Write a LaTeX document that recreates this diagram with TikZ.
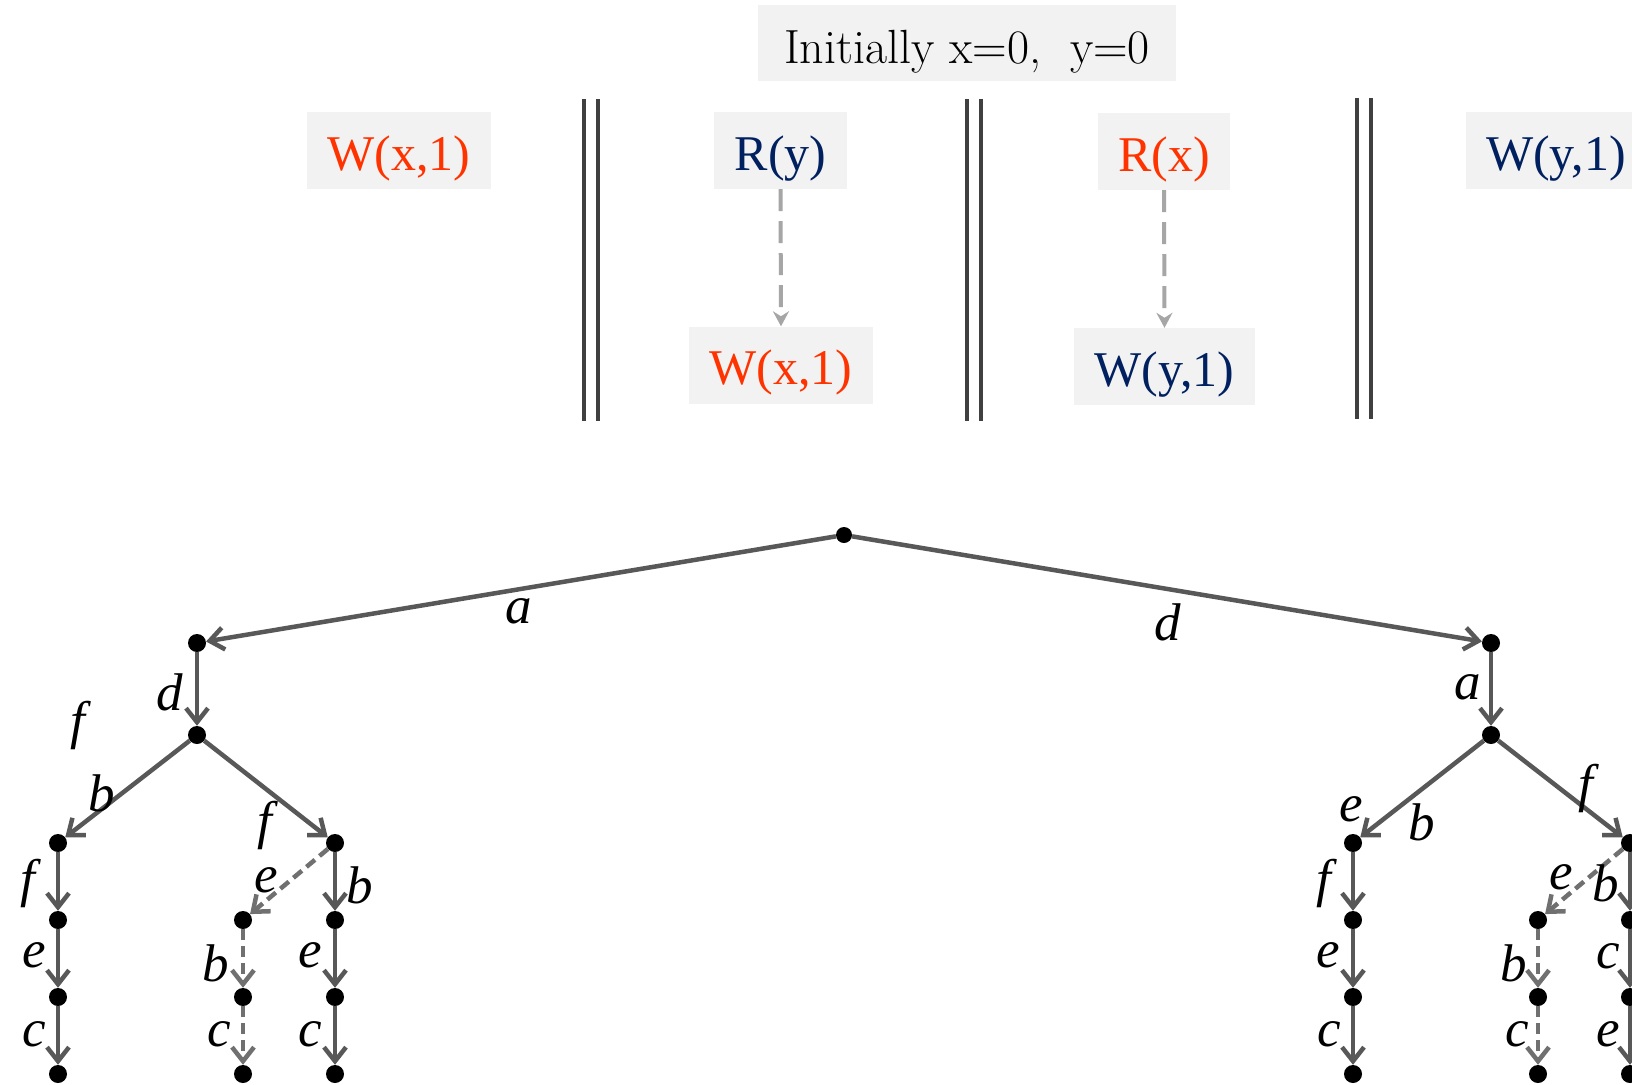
\documentclass[tikz,border=0pt]{standalone}
\usepackage{fontspec}
\newfontfamily\cambria{Liberation Serif}
\usetikzlibrary{arrows.meta}
\definecolor{orng}{HTML}{FF3300}
\definecolor{navy}{HTML}{002060}
\definecolor{boxbg}{HTML}{F2F2F2}
\definecolor{sepc}{HTML}{404040}
\definecolor{edgec}{HTML}{585858}
\definecolor{dedgec}{HTML}{707070}
\definecolor{poc}{HTML}{A6A6A6}
\begin{document}
\begin{tikzpicture}[x=1pt,y=-1pt,
  opbox/.style={fill=boxbg, minimum height=77pt, inner sep=0pt, text height=39pt, text depth=0pt, font=\cambria\fontsize{50}{58}\selectfont},
  dot/.style={circle, fill=black, inner sep=0pt, minimum size=18pt},
  tedge/.style={draw=edgec, line width=4.5pt, -{Straight Barb[length=14pt,width=22pt]}},
  dedge/.style={tedge, draw=dedgec, dash pattern=on 11pt off 6pt},
  lbl/.style={font=\cambria\fontsize{53}{60}\selectfont\itshape, inner sep=0pt},
  sepline/.style={draw=sepc, line width=3.8pt},
  poedge/.style={draw=poc, line width=4pt, dash pattern=on 22pt off 10pt, -{Stealth[length=15pt,width=16pt,inset=5pt]}}
]
\clip (0,0) rectangle (1632,1084);
\fill[white] (0,0) rectangle (1632,1084);
% header
\node[fill=boxbg, minimum width=418pt, minimum height=76pt, inner sep=0pt, text height=41pt, text depth=0pt, font=\fontsize{48}{56}\selectfont\addfontfeature{FakeBold=0.6}] (init) at (967,43) {Initially x=0,\ \ y=0};
\node[opbox, minimum width=184pt, text=orng] (w1) at (399,150.5) {W(x,1)};
\node[opbox, minimum width=133pt, text=navy] (ry) at (780.5,150.5) {R(y)};
\node[opbox, minimum width=184pt, text=orng] (w2) at (781,365) {W(x,1)};
\node[opbox, minimum width=132pt, text=orng] (rx) at (1164,151.5) {R(x)};
\node[opbox, minimum width=181pt, text=navy] (w3) at (1164.5,366.5) {W(y,1)};
\node[opbox, minimum width=180pt, text=navy] (w4) at (1556,150.5) {W(y,1)};
\draw[poedge] (ry.south) -- (w2.north);
\draw[poedge] (rx.south) -- (w3.north);
\coordinate (s1a) at (584,99); \coordinate (s1b) at (584,421);
\coordinate (s1c) at (598,99); \coordinate (s1d) at (598,421);
\coordinate (s2a) at (967,99); \coordinate (s2b) at (967,421);
\coordinate (s2c) at (981,99); \coordinate (s2d) at (981,421);
\coordinate (s3a) at (1357,98); \coordinate (s3b) at (1357,419);
\coordinate (s3c) at (1371,98); \coordinate (s3d) at (1371,419);
\draw[sepline] (s1a) -- (s1b); \draw[sepline] (s1c) -- (s1d);
\draw[sepline] (s2a) -- (s2b); \draw[sepline] (s2c) -- (s2d);
\draw[sepline] (s3a) -- (s3b); \draw[sepline] (s3c) -- (s3d);
% tree nodes
\node[dot, minimum size=16pt] (root) at (844,535) {};
\node[dot] (L) at (197,643) {};
\node[dot] (R) at (1491,643) {};
\node[dot] (L1) at (197,735) {};
\node[dot] (R1) at (1491,735) {};
\node[dot] (LL) at (58,843) {};
\node[dot] (LR) at (335,843) {};
\node[dot] (RL) at (1353,843) {};
\node[dot] (RR) at (1630,843) {};
\foreach \n/\x in {LL/58,LM/243,LR/335,RL/1353,RM/1538,RR/1630}{
  \node[dot] (\n1) at (\x,920) {};
  \node[dot] (\n2) at (\x,997) {};
  \node[dot] (\n3) at (\x,1074) {};
}
% tree edges
\draw[tedge] (root) -- (L);
\draw[tedge] (root) -- (R);
\draw[tedge] (L) -- (L1);
\draw[tedge] (R) -- (R1);
\draw[tedge] (L1) -- (LL);
\draw[tedge] (L1) -- (LR);
\draw[tedge] (R1) -- (RL);
\draw[tedge] (R1) -- (RR);
\draw[tedge] (LL) -- (LL1); \draw[tedge] (LL1) -- (LL2); \draw[tedge] (LL2) -- (LL3);
\draw[tedge] (LR) -- (LR1); \draw[tedge] (LR1) -- (LR2); \draw[tedge] (LR2) -- (LR3);
\draw[dedge] (LR) -- (LM1); \draw[dedge] (LM1) -- (LM2); \draw[dedge] (LM2) -- (LM3);
\draw[tedge] (RL) -- (RL1); \draw[tedge] (RL1) -- (RL2); \draw[tedge] (RL2) -- (RL3);
\draw[tedge] (RR) -- (RR1); \draw[tedge] (RR1) -- (RR2); \draw[tedge] (RR2) -- (RR3);
\draw[dedge] (RR) -- (RM1); \draw[dedge] (RM1) -- (RM2); \draw[dedge] (RM2) -- (RM3);
% labels
\node[lbl] (la) at (519,611) {a};
\node[lbl] (ld) at (1168,622) {d};
\node[lbl] (l1) at (170,692) {d};
\node[lbl] (l2) at (78,725) {f};
\node[lbl] (l3) at (102,793) {b};
\node[lbl] (l4) at (265,825) {f};
\node[lbl] (l5) at (28,883) {f};
\node[lbl] (l6) at (34,955) {e};
\node[lbl] (l7) at (34,1034) {c};
\node[lbl] (l8) at (266,880) {e};
\node[lbl] (l9) at (216,963) {b};
\node[lbl] (l10) at (219,1034) {c};
\node[lbl] (l11) at (360,885) {b};
\node[lbl] (l12) at (310,955) {e};
\node[lbl] (l13) at (310,1034) {c};
\node[lbl] (r1) at (1468,687) {a};
\node[lbl] (r2) at (1351,809) {e};
\node[lbl] (r3) at (1422,822) {b};
\node[lbl] (r4) at (1586,788) {f};
\node[lbl] (r5) at (1324,883) {f};
\node[lbl] (r6) at (1328,955) {e};
\node[lbl] (r7) at (1329,1034) {c};
\node[lbl] (r8) at (1561,877) {e};
\node[lbl] (r9) at (1514,963) {b};
\node[lbl] (r10) at (1517,1034) {c};
\node[lbl] (r11) at (1606,883) {b};
\node[lbl] (r12) at (1608,956) {c};
\node[lbl] (r13) at (1608,1034) {e};
\end{tikzpicture}
\end{document}
